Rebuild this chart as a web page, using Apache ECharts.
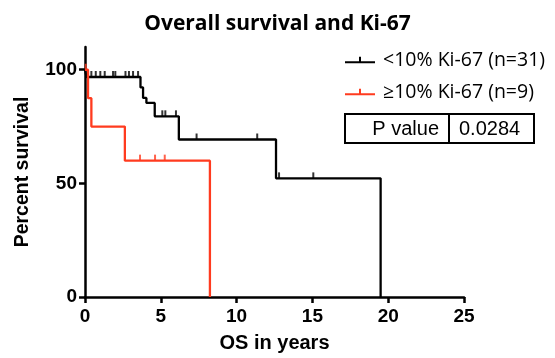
<!DOCTYPE html>
<html>
<head>
<meta charset="utf-8">
<script src="https://cdn.jsdelivr.net/npm/echarts@6/dist/echarts.min.js"></script>
<style>
  html, body { margin: 0; padding: 0; background: #fff; }
  #chart { width: 555px; height: 358px; }
</style>
</head>
<body>
<div id="chart"></div>
<script>
// Kaplan-Meier steps [years, percent]
const lowSteps = [[0, 100], [0.1, 96.8], [3.66, 92.2], [3.83, 87.6], [4.05, 85.4], [4.6, 79.5], [6.19, 69.3], [12.6, 52.2], [19.5, 0]];
const lowCensored = [[0.42, 96.8], [0.71, 96.8], [1.01, 96.8], [1.3, 96.8], [1.85, 96.8], [2.0, 96.8], [2.67, 96.8], [2.9, 96.8], [3.17, 96.8], [3.5, 96.8],
  [5.1, 79.5], [5.3, 79.5], [6.0, 79.5], [7.36, 69.3], [11.36, 69.3], [12.8, 52.2], [15.06, 52.2]];
const highSteps = [[0, 100], [0.2, 87.5], [0.42, 75], [2.63, 60], [8.24, 0]];
const highCensored = [[0.05, 100], [3.63, 60], [4.62, 60], [5.26, 60]];
const xTicks = [0, 5, 10, 15, 20, 25];
const yTicks = [0, 50, 100];
const pValue = '0.0284';

const BLACK = '#000000';
const RED = '#ff3b1f';
const legendIcon = 'path://M0,9h30v2.2h-30z M14,4.5h2v5h-2z';

const chart = echarts.init(document.getElementById('chart'));

const censorSeries = (name, data, color) => ({
  name: name,
  type: 'scatter',
  data: data,
  symbol: 'rect',
  symbolSize: [2, 6],
  symbolOffset: [0, -3],
  itemStyle: { color: color },
  silent: true,
  z: 3,
});

chart.setOption({
  animation: false,
  title: {
    text: 'Overall survival and Ki-67',
    left: 'center',
    top: 9,
    textStyle: { fontFamily: 'Open Sans', fontWeight: 'bold', fontSize: 21, color: '#000' },
  },
  legend: {
    left: 340,
    top: 45,
    orient: 'vertical',
    itemWidth: 30,
    itemHeight: 12,
    itemGap: 12,
    textStyle: { fontFamily: 'Open Sans', fontSize: 19.5, color: '#000', padding: [0, 0, 0, 3] },
    data: [
      { name: '<10% Ki-67 (n=31)', icon: legendIcon, itemStyle: { color: BLACK } },
      { name: '≥10% Ki-67 (n=9)', icon: legendIcon, itemStyle: { color: RED } },
    ],
  },
  grid: { left: 85, right: 91, top: 47, bottom: 60 },
  xAxis: {
    type: 'value',
    min: 0,
    max: 25,
    interval: 5,
    name: 'OS in years',
    nameLocation: 'middle',
    nameGap: 36,
    nameTextStyle: { fontFamily: 'Liberation Sans', fontWeight: 'bold', fontSize: 20, color: '#000' },
    splitLine: { show: false },
    axisLine: { lineStyle: { color: '#000', width: 2.5 } },
    axisTick: { length: 6, lineStyle: { color: '#000', width: 2.5 } },
    axisLabel: {
      margin: 10,
      fontFamily: 'Liberation Sans', fontWeight: 'bold', fontSize: 19, color: '#000',
      customValues: xTicks,
    },
  },
  yAxis: {
    type: 'value',
    min: 0,
    max: 110,
    interval: 50,
    name: 'Percent survival',
    nameLocation: 'middle',
    nameGap: 52,
    nameTextStyle: { fontFamily: 'Liberation Sans', fontWeight: 'bold', fontSize: 19.5, color: '#000' },
    splitLine: { show: false },
    axisLine: { show: true, lineStyle: { color: '#000', width: 2.5 } },
    axisTick: { show: true, length: 6, lineStyle: { color: '#000', width: 2.5 }, customValues: yTicks },
    axisLabel: {
      margin: 8,
      fontFamily: 'Liberation Sans', fontWeight: 'bold', fontSize: 19, color: '#000',
      customValues: yTicks,
    },
  },
  series: [
    {
      name: '<10% Ki-67 (n=31)',
      type: 'line',
      step: 'end',
      data: lowSteps,
      symbol: 'none',
      lineStyle: { color: BLACK, width: 2.3 },
      itemStyle: { color: BLACK },
      z: 2,
    },
    censorSeries('<10% Ki-67 (n=31)', lowCensored, BLACK),
    {
      name: '≥10% Ki-67 (n=9)',
      type: 'line',
      step: 'end',
      data: highSteps,
      symbol: 'none',
      lineStyle: { color: RED, width: 2.3 },
      itemStyle: { color: RED },
      z: 4,
    },
    censorSeries('≥10% Ki-67 (n=9)', highCensored, RED),
  ],
  graphic: [
    { type: 'rect', shape: { x: 345, y: 114, width: 189, height: 29 }, style: { fill: 'none', stroke: '#000', lineWidth: 2 } },
    { type: 'line', shape: { x1: 449, y1: 114, x2: 449, y2: 143 }, style: { stroke: '#000', lineWidth: 2 } },
    { type: 'text', x: 439, y: 129, style: { text: 'P value', fontFamily: 'Liberation Sans', fontSize: 20, fill: '#000', align: 'right', verticalAlign: 'middle' } },
    { type: 'text', x: 459, y: 129, style: { text: pValue, fontFamily: 'Liberation Sans', fontSize: 20, fill: '#000', align: 'left', verticalAlign: 'middle' } },
  ],
});
</script>
</body>
</html>
